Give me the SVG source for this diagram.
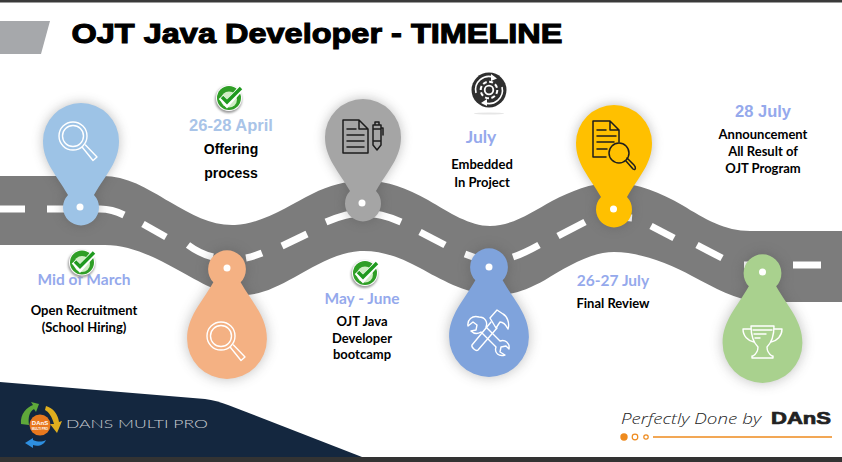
<svg xmlns="http://www.w3.org/2000/svg" xmlns:xlink="http://www.w3.org/1999/xlink" width="842" height="462" viewBox="0 0 842 462">
<style>
text{font-family:"Liberation Sans",Arial,sans-serif;text-anchor:middle}
.date{font-weight:700;font-size:16.5px}
.ca{font-family:Lato,"Liberation Sans",sans-serif;font-weight:700;font-size:15.5px}
.body{font-family:Lato,"Liberation Sans",sans-serif;font-weight:700;font-size:13px;fill:#000}
.ar{font-family:"Liberation Sans",sans-serif;font-weight:700;font-size:14px;fill:#000}
.b1{fill:#a9c4e8}.b2{fill:#95a9ec}
.dash{fill:none;stroke:#fff;stroke-width:7}
.wl{fill:none;stroke:#fff;stroke-width:1.4;stroke-linejoin:round;stroke-linecap:round}
.dl{fill:none;stroke:#1d1d1d;stroke-width:1.5;stroke-linejoin:round;stroke-linecap:round}
.dot{fill:#fff}
</style>
<defs>
<filter id="blur" x="-40%" y="-40%" width="180%" height="180%"><feGaussianBlur stdDeviation="6"/></filter>
<filter id="soft" x="-30%" y="-30%" width="160%" height="160%"><feGaussianBlur stdDeviation="1"/></filter>
<path id="pin" d="M-38,0A38,38 0 0 1 38,0C38,21 25,33 13,54A18,18 0 1 1 -13,54C-25,33 -38,21 -38,0Z"/>
<g id="check">
<circle cx="-.5" cy="1.500" r="13.5" fill="#9a9a9a" filter="url(#soft)"/>
<circle r="13" fill="#fff"/>
<circle r="12" fill="#2f9e26"/>
<circle r="8" cy="1.500" fill="#cfeec4"/>
<path d="M-8,-1L-2,6L13,-11" fill="none" stroke="#fff" stroke-width="6"/>
<path d="M-7,-1L-2,4L12,-10" fill="none" stroke="#1f9a1f" stroke-width="3.5"/>
</g>
<g id="mag">
<circle r="14" class="wl"/><circle r="10.5" class="wl"/>
<path d="M9.5,11.5L20,24.5L24,21L12.5,9" class="wl"/>
</g>
</defs>
<rect width="842" height="462" fill="#fff"/>
<rect width="842" height="2.5" fill="#3a3a3a"/>
<path d="M0,21H50L41,54H0Z" fill="#a6a8ab"/>
<text id="title" x="317" y="43" style="font-size:28px;font-weight:700;stroke:#000;stroke-width:1.1" textLength="491" lengthAdjust="spacingAndGlyphs">OJT Java Developer - TIMELINE</text>

<g id="connectors">
<path id="road" fill="#7c7c7c" d="M0,176H100C125,175 145,187 170,202C192,215 212,226 235,225C262,224 290,205 312,194C330,185 345,181 363,181C385,180 405,187 428,200C450,213 470,226 490,226C512,226 532,212 552,201C572,191 590,183 612,183C635,182 660,192 682,205C705,219 725,231 750,231H842V302H760C735,300 715,288 692,276C670,264 640,252 614,252C590,252 565,268 545,280C525,291 510,296 490,295C465,293 440,279 420,268C400,257 380,250 360,251C335,253 315,266 295,277C275,288 260,295 243,295C220,295 200,282 178,270C155,257 130,245 105,245H0Z"/>
<g>
<path class="dash" d="M0,209H25"/>
<path class="dash" d="M47,209H100C108,209 116,211 124,215"/>
<path class="dash" d="M143,224L166,237"/>
<path class="dash" d="M188,245C196,251 205,255 213,257"/>
<path class="dash" d="M246,258C252,257 257,255 262,253"/>
<path class="dash" d="M282,246L307,234"/>
<path class="dash" d="M326,222C340,216 352,213 362,213C375,213 388,216 401,222"/>
<path class="dash" d="M420,232L445,245"/>
<path class="dash" d="M465,254L476,258"/>
<path class="dash" d="M513,257C522,254 530,250 539,245"/>
<path class="dash" d="M558,236L585,222"/>
<path class="dash" d="M610,216L632,218"/>
<path class="dash" d="M651,226L674,238"/>
<path class="dash" d="M697,245L722,258"/>
<path class="dash" d="M744,265H760"/>
<path class="dash" d="M793,265H821"/>
</g>
</g>

<g id="node-march">
<use href="#pin" transform="translate(81,141)" fill="#444" opacity=".34" filter="url(#blur)"/>
<use href="#pin" transform="translate(81,141)" fill="#9dc3e6"/>
<circle class="dot" cx="80" cy="207" r="3.5"/>
<use href="#mag" transform="translate(73,136)"/>
<text class="ca b2" x="84" y="285">Mid of March</text>
<use href="#check" transform="translate(82,262.500)"/>
<text class="body" x="84" y="315">Open Recruitment</text>
<text class="body" x="84" y="332">(School Hiring)</text>
</g>

<g id="node-april">
<use href="#pin" transform="translate(227,339) scale(1.05,-1.05)" fill="#444" opacity=".34" filter="url(#blur)"/>
<use href="#pin" transform="translate(227,339) scale(1.05,-1.05)" fill="#f4b183"/>
<circle class="dot" cx="227" cy="268" r="3.5"/>
<use href="#mag" transform="translate(221,336)"/>
<use href="#check" transform="translate(229,98)"/>
<text class="date b1" x="231" y="131">26-28 April</text>
<text class="ar" x="231" y="154">Offering</text>
<text class="ar" x="231" y="178">process</text>
</g>

<g id="node-may">
<use href="#pin" transform="translate(363,137)" fill="#444" opacity=".34" filter="url(#blur)"/>
<use href="#pin" transform="translate(363,137)" fill="#a5a5a5"/>
<circle class="dot" cx="362" cy="203" r="3.5"/>
<path class="dl" d="M343,120H359L368,129V153H343ZM359,120V129H368M347,129H356M347,135H364M347,141H364M347,147H364"/>
<path class="dl" d="M373,125H381V145L377,150L373,145ZM373,129H381M373,141H381M381,128H383V135M375,125V122H379V125"/>
<use href="#check" transform="translate(365,273)"/>
<text class="ca b2" x="362" y="304">May - June</text>
<text class="body" x="362" y="326">OJT Java</text>
<text class="body" x="362" y="343">Developer</text>
<text class="body" x="362" y="359">bootcamp</text>
</g>

<g id="node-july">
<use href="#pin" transform="translate(489,337) scale(1.05,-1.05)" fill="#444" opacity=".34" filter="url(#blur)"/>
<use href="#pin" transform="translate(489,337) scale(1.05,-1.05)" fill="#7fa3dc"/>
<circle class="dot" cx="489" cy="267" r="3.5"/>
<path class="wl" d="M479,317C472,315 467,320 468,326L473,322L477,325L476,330L471,331C474,334 478,334 481,332L496,347C494,353 499,357 505,355L500,352L501,347L506,346L509,349C510,343 505,339 500,341L486,327C488,322 485,317 479,317Z"/>
<path class="wl" d="M491,322L472,345C471,347 476,352 478,350L497,328"/>
<path class="wl" d="M490,318L497,310L503,314C507,316 510,323 508,329C506,325 503,322 500,322L496,328Z"/>
<text class="ca b2" x="481" y="143" style="font-size:17.500px">July</text>
<text class="body" x="482" y="169">Embedded</text>
<text class="body" x="482" y="187">In Project</text>
<g id="gear-icon">
<circle cx="489" cy="90" r="17.5" fill="#2f2f2f"/>
<path d="M476,93A13.300,13.300 0 0 1 494,77.500M502,87A13.300,13.300 0 0 1 484,102.500" fill="none" stroke="#fff" stroke-width="1.6"/>
<path d="M491,74L497,78.500L491,81ZM487,99L481,103L487,106Z" fill="#fff"/>
<circle cx="489" cy="90" r="8.300" fill="none" stroke="#fff" stroke-width="2" stroke-dasharray="4 2.500"/>
<circle cx="489" cy="90" r="4.300" fill="none" stroke="#fff" stroke-width="1.8"/>
<ellipse cx="489" cy="113.500" rx="15" ry="1" fill="#e6e6e6"/>
</g>
</g>

<g id="node-final">
<use href="#pin" transform="translate(614,143)" fill="#444" opacity=".34" filter="url(#blur)"/>
<use href="#pin" transform="translate(614,143)" fill="#ffc000"/>
<circle class="dot" cx="613.500" cy="209" r="3.5"/>
<path class="dl" d="M606,157H593V121H610L619,130V142M610,121V130H619M597,130H606M597,136H616M597,142H614M597,149H607"/>
<circle class="dl" cx="619" cy="153" r="10"/>
<path class="dl" d="M626,161L633,169C636,171 636,167 634,165L627,158"/>
<text class="ca b2" x="613" y="286">26-27 July</text>
<text class="body" x="613" y="308">Final Review</text>
</g>

<g id="node-result">
<use href="#pin" transform="translate(762.500,343) scale(1.05,-1.05)" fill="#444" opacity=".34" filter="url(#blur)"/>
<use href="#pin" transform="translate(762.500,343) scale(1.05,-1.05)" fill="#a9d18e"/>
<circle class="dot" cx="762.500" cy="272" r="3.5"/>
<path class="wl" d="M751,326H774C774,338 770,344 767,347C767,351 769,354 772,356H773V358H752V356H753C756,354 758,351 758,347C755,344 751,338 751,326ZM751,329H743C743,336 748,341 754,342M774,329H782C782,336 777,341 771,342M753,330H772M754,334H766M755,338H760"/>
<text class="date b2" x="763" y="117">28 July</text>
<text class="body" x="763" y="139">Announcement</text>
<text class="body" x="763" y="156">All Result of</text>
<text class="body" x="763" y="173">OJT Program</text>
</g>

<g id="footer">
<rect y="457" width="842" height="5" fill="#333"/>
<path d="M0,382L205,399C213,400 220,402 228,405L362,457H0Z" fill="#14273f"/>
<path d="M21,424C20,414 27,407 33,405L31,402L39,404L36,412L34,409C29,412 28,418 29,425Z" fill="#5fa83a"/>
<path d="M46,406C53,408 58,414 59,422L62,421L57,433L50,424L54,424C52,417 49,412 45,410Z" fill="#e0ae1e"/>
<path d="M25,443L33,438V440C38,442 42,442 46,440C44,445 38,447 33,445V448Z" fill="#2e8fe0"/>
<circle cx="40" cy="425" r="10.500" fill="#e8781e"/>
<text x="40" y="424.500" fill="#fff" style="font-size:6px;font-weight:700">DAnS</text>
<text x="40" y="429.500" fill="#fff" style="font-size:3px;font-weight:700">MULTI PRO</text>
<text x="137" y="428" fill="#c9cdd2" style="font-family:Lato,sans-serif;font-size:12px;font-weight:300" textLength="142" lengthAdjust="spacingAndGlyphs">DANS MULTI PRO</text>
<text x="691" y="424" fill="#222" style="font-family:'Open Sans',sans-serif;font-style:italic;font-size:15px;font-weight:300" textLength="140" lengthAdjust="spacingAndGlyphs">Perfectly Done by</text>
<text x="801" y="424" fill="#222" style="font-family:'Liberation Sans',sans-serif;font-size:16.5px;font-weight:700;stroke:#222;stroke-width:.7" textLength="60" lengthAdjust="spacingAndGlyphs">DAnS</text>
<circle cx="624" cy="437" r="3.7" fill="#ee8a1d"/>
<circle cx="635" cy="437" r="2.800" fill="none" stroke="#ee8a1d" stroke-width="1.2"/>
<circle cx="646" cy="437" r="2.200" fill="none" stroke="#ee8a1d" stroke-width="1.2"/>
<path d="M653,437H832" stroke="#ee8a1d" stroke-width="1.5"/>
</g>
</svg>
